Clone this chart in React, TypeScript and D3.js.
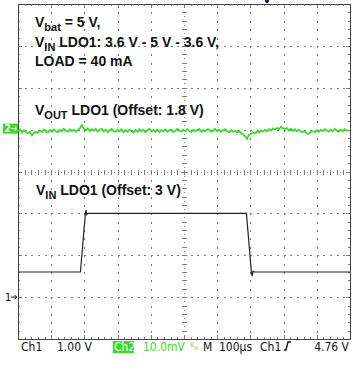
import React, { useEffect, useRef } from 'react';
import * as d3 from 'd3';

// Ch1 = V_IN LDO1, 1.00 V/div, offset 3 V (time in µs)
const ch1Time = [0, 188, 203, 205, 207, 211, 688, 703, 705, 708, 712, 1000];
const ch1Volts = [3.6, 3.6, 5.0, 5.08, 4.97, 5.0, 5.0, 3.6, 3.5, 3.62, 3.6, 3.6];

// Ch2 = V_OUT LDO1, 10 mV/div around the 1.8 V offset, one sample every 6 µs
const ch2Step = 6;
const ch2MilliVolts = [
  -0.4, 0.0, -0.7, -0.1, -0.6, -0.9, -0.5, -1.4, -0.8, -0.5,
  -0.8, -0.2, -0.6, 0.0, -0.5, -0.7, -0.1, -0.5, 0.1, -0.4,
  -0.6, 0.0, -0.4, 0.2, -0.3, -0.5, 0.1, -0.4, 0.0, -0.5,
  -0.1, 0.3, 1.1, 0.3, -0.2, 0.3, -0.4, 0.1, -0.3, 0.2,
  -0.5, 0.0, 0.2, -0.4, 0.0, -0.6, -0.1, 0.2, -0.4, -0.5,
  0.0, -0.4, 0.1, -0.6, -0.1, -0.5, 0.0, -0.4, -0.7, -0.1,
  -0.5, 0.1, -0.4, 0.0, -0.6, -0.1, 0.2, -0.4, -0.1, -0.5,
  0.0, -0.6, -0.1, -0.4, 0.1, -0.5, -0.1, 0.0, -0.6, -0.3,
  0.2, -0.3, -0.5, 0.0, -0.4, 0.1, -0.3, -0.6, 0.0, -0.4,
  -0.1, 0.2, -0.5, -0.1, -0.4, 0.1, 0.0, -0.5, -0.2, 0.2,
  -0.4, 0.0, -0.5, -0.1, 0.1, -0.4, -0.6, -0.1, -0.5, -0.3,
  -0.7, -0.3, -0.9, -1.1, -1.6, -2.2, -1.2, -1.0, -0.6, -0.9,
  -0.4, -0.7, -0.2, -0.5, 0.0, -0.4, 0.1, -0.2, 0.3, 0.0,
  0.4, 0.1, 0.7, 0.3, 0.2, 0.4, -0.2, 0.2, -0.3, 0.1,
  -0.4, 0.0, -0.5, -0.6, -0.4, -0.9, -1.0, -0.6, -0.4, -0.6,
  -0.1, -0.5, 0.0, -0.4, 0.1, -0.2, -0.5, 0.0, -0.4, 0.2,
  -0.3, -0.5, 0.0, -0.4, 0.1, -0.2, -0.3,
];

// annotation lines: [main, subscript, rest]
const notes = [
  ['V', 'bat', ' = 5 V,'],
  ['V', 'IN', ' LDO1: 3.6 V - 5 V - 3.6 V,'],
  ['', '', 'LOAD = 40 mA'],
];
const ch2Title = ['V', 'OUT', ' LDO1 (Offset: 1.8 V)'];
const ch1Title = ['V', 'IN', ' LDO1 (Offset: 3 V)'];

const statusLeft = ['Ch1', '1.00 V'];
const statusCh2 = ['Ch2', '10.0mV'];
const statusRight = ['M', '100µs', 'Ch1', '4.76 V'];

const W = 353;
const H = 370;
const GREEN = '#33dd22';

const App = () => {
  const svgRef = useRef(null);

  useEffect(() => {
    const svg = d3.select(svgRef.current);
    svg.selectAll('*').remove();

    const left = 18, right = 350, top = 4, bottom = 339;
    const xDiv = d3.scaleLinear().domain([0, 10]).range([left, right]);
    const yDiv = d3.scaleLinear().domain([0, 8]).range([top, bottom]);
    const x = d3.scaleLinear().domain([0, 1000]).range([left, right]);
    const y1 = d3.scaleLinear().domain([10, 2]).range([top, bottom]);
    const y2 = d3.scaleLinear().domain([30, -50]).range([top, bottom]);
    const px = (v) => Math.round(v);

    const grid = svg.append('g').attr('shape-rendering', 'crispEdges');
    const dotColor = '#7a7a7a';
    const dot = (cx, cy, w = 1, h = 1) => grid.append('rect').attr('x', px(cx)).attr('y', px(cy))
      .attr('width', w).attr('height', h).attr('fill', dotColor);

    // dotted graticule
    d3.range(1, 10).forEach((k) => {
      if (k === 5) return;
      d3.range(1, 40).forEach((m) => dot(xDiv(k), yDiv(m / 5), 1, 2));
    });
    d3.range(1, 8).forEach((k) => {
      if (k === 4) return;
      d3.range(1, 50).forEach((m) => dot(xDiv(m / 5), yDiv(k), 2, 1));
    });

    // centre cross with minor ticks
    d3.range(1, 40).forEach((m) => {
      const yy = px(yDiv(m / 5));
      grid.append('rect').attr('x', px(xDiv(5)) - 2).attr('y', yy).attr('width', 5).attr('height', 1)
        .attr('fill', dotColor);
      dot(xDiv(5), yDiv(m / 5) + 4);
    });
    d3.range(1, 50).forEach((m) => {
      const xx = px(xDiv(m / 5));
      grid.append('rect').attr('x', xx).attr('y', px(yDiv(4)) - 2).attr('width', 1).attr('height', 5)
        .attr('fill', dotColor);
      dot(xDiv(m / 5) + 3.3, yDiv(4));
    });

    // border ticks
    d3.range(1, 50).forEach((m) => {
      const len = m % 5 === 0 ? 4 : 2;
      grid.append('rect').attr('x', px(xDiv(m / 5))).attr('y', top).attr('width', 1).attr('height', len)
        .attr('fill', dotColor);
      grid.append('rect').attr('x', px(xDiv(m / 5))).attr('y', bottom - len).attr('width', 1).attr('height', len)
        .attr('fill', dotColor);
    });
    d3.range(1, 40).forEach((m) => {
      const len = m % 5 === 0 ? 4 : 2;
      grid.append('rect').attr('y', px(yDiv(m / 5))).attr('x', left).attr('height', 1).attr('width', len)
        .attr('fill', dotColor);
      grid.append('rect').attr('y', px(yDiv(m / 5))).attr('x', right - len).attr('height', 1).attr('width', len)
        .attr('fill', dotColor);
    });
    grid.append('rect').attr('x', left + 0.5).attr('y', top + 0.5)
      .attr('width', right - left).attr('height', bottom - top)
      .attr('fill', 'none').attr('stroke', '#444').attr('stroke-width', 1);

    // trigger position marker
    svg.append('path')
      .attr('d', `M${x(750) - 2},0 L${x(750) + 2},0 L${x(750) + 2},2 L${x(750)},3.5 L${x(750) - 2},2 Z`)
      .attr('fill', '#1c1c6a');

    // traces
    const line1 = d3.line<number>().x((_, i) => x(ch1Time[i])).y((d) => y1(d));
    svg.append('path').attr('d', line1(ch1Volts))
      .attr('fill', 'none').attr('stroke', '#222').attr('stroke-width', 1.2);

    const line2 = d3.line<number>().x((_, i) => x(i * ch2Step)).y((d) => y2(d));
    svg.append('path').attr('d', line2(ch2MilliVolts))
      .attr('fill', 'none').attr('stroke', GREEN).attr('stroke-width', 1.7);

    // channel markers
    const m2 = y2(0) - 1;
    svg.append('rect').attr('x', 3).attr('y', m2 - 5).attr('width', 15).attr('height', 10).attr('fill', GREEN);
    svg.append('text').attr('x', 4.5).attr('y', m2 + 3.5).text('2')
      .attr('font-family', 'DejaVu Sans Condensed, sans-serif').attr('font-size', 10)
      .attr('font-weight', 'bold').attr('fill', '#fff');
    svg.append('path').attr('d', `M11,${m2} H17 M14.5,${m2 - 2} L17,${m2} L14.5,${m2 + 2}`)
      .attr('stroke', '#fff').attr('fill', 'none').attr('stroke-width', 1);

    const m1 = y1(3);
    svg.append('text').attr('x', 5).attr('y', m1 + 4).text('1')
      .attr('font-family', 'DejaVu Sans Condensed, sans-serif').attr('font-size', 11).attr('fill', '#111');
    svg.append('path').attr('d', `M11,${m1} H17 M14.5,${m1 - 2} L17,${m1} L14.5,${m1 + 2}`)
      .attr('stroke', '#111').attr('fill', 'none').attr('stroke-width', 1);

    // annotations
    const addNote = (parts, tx, ty) => {
      const t = svg.append('text').attr('x', tx).attr('y', ty)
        .attr('font-family', 'Liberation Sans, Arial, sans-serif')
        .attr('font-weight', 'bold').attr('font-size', 14).attr('fill', '#111');
      if (parts[0]) t.append('tspan').text(parts[0]);
      if (parts[1]) t.append('tspan').attr('dy', 4).attr('font-size', 11).text(parts[1]);
      t.append('tspan').attr('dy', parts[1] ? -4 : 0).text(parts[2]);
    };
    notes.forEach((n, i) => addNote(n, 35, 27 + i * 19.5));
    addNote(ch2Title, 35, 115);
    addNote(ch1Title, 36, 195);

    // status row
    const status = svg.append('g')
      .attr('font-family', 'DejaVu Sans Condensed, sans-serif').attr('font-size', 12).attr('fill', '#111');
    status.append('text').attr('x', 21).attr('y', 351).text(statusLeft[0]);
    status.append('text').attr('x', 57).attr('y', 351).text(statusLeft[1]);
    status.append('rect').attr('x', 113).attr('y', 341).attr('width', 21).attr('height', 12).attr('fill', GREEN);
    status.append('text').attr('x', 114).attr('y', 351).attr('fill', '#fff').text(statusCh2[0]);
    status.append('text').attr('x', 143).attr('y', 351).attr('fill', GREEN).text(statusCh2[1]);
    status.append('text').attr('x', 190).attr('y', 347).attr('font-size', 7).attr('fill', '#9c6').text('B');
    status.append('text').attr('x', 194).attr('y', 350).attr('font-size', 5).attr('fill', '#9c6').text('W');
    status.append('text').attr('x', 203).attr('y', 351).text(statusRight[0]);
    status.append('text').attr('x', 219).attr('y', 351).text(statusRight[1]);
    status.append('text').attr('x', 260).attr('y', 351).text(statusRight[2]);
    status.append('path').attr('d', 'M284,350 L286,350 L288,342 L291,342')
      .attr('fill', 'none').attr('stroke', '#111').attr('stroke-width', 1.4);
    status.append('text').attr('x', 349).attr('y', 351).attr('text-anchor', 'end').text(statusRight[3]);
  }, []);

  return (
    <svg ref={svgRef} width={W} height={H}
      style={{ position: 'absolute', left: 0, top: 0, background: '#fff' }} />
  );
};

export default App;
